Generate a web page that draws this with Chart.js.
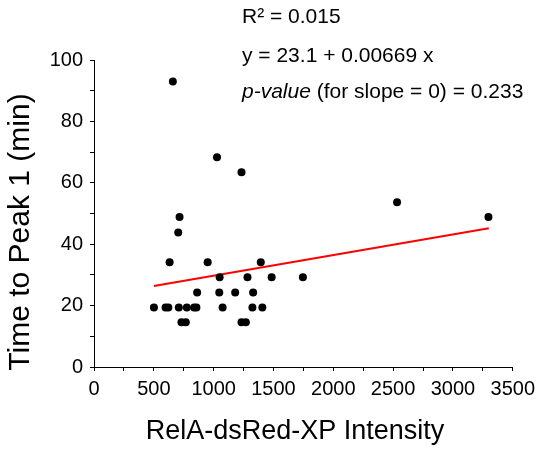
<!DOCTYPE html>
<html>
<head>
<meta charset="utf-8">
<script src="https://cdn.jsdelivr.net/npm/chart.js@4/dist/chart.umd.min.js"></script>
<style>
  html, body { margin: 0; padding: 0; background: #fff; }
  #wrap { width: 541px; height: 451px; position: relative; }
</style>
</head>
<body>
<div id="wrap"><canvas id="chart"></canvas></div>
<script>
// valores
const intensity = [659, 1028, 1233, 715, 704, 632, 950, 1394, 1050, 1283, 1485, 1746,
  862, 1047, 1180, 1330, 501, 598, 621, 709, 776, 837, 856, 1075, 1324, 1407,
  731, 767, 1233, 1269, 2533, 3297];
const timeToPeak = [93, 68.3, 63.4, 48.9, 43.8, 34.1, 34.1, 34.1, 29.2, 29.2, 29.2, 29.2,
  24.3, 24.3, 24.3, 24.3, 19.4, 19.4, 19.4, 19.4, 19.4, 19.4, 19.4, 19.4, 19.4, 19.4,
  14.6, 14.6, 14.6, 14.6, 53.7, 48.9];
// reta de ajuste (extremos)
const fitX = [500, 3300];
const fitY = [26.4, 45.2];
const xTickLabels = [0, 500, 1000, 1500, 2000, 2500, 3000, 3500];
const yTickLabels = [0, 20, 40, 60, 80, 100];
const statsText = ['R\u00B2 = 0.015', 'y = 23.1 + 0.00669 x'];

const FONT = '"Liberation Sans", Arial, sans-serif';

// Textos: anotações e títulos dos eixos
const textPlugin = {
  id: 'texts',
  afterDraw(chart) {
    const ctx = chart.ctx;
    ctx.save();
    ctx.fillStyle = '#000';
    ctx.textBaseline = 'alphabetic';
    ctx.textAlign = 'left';
    ctx.font = '21px ' + FONT;
    ctx.fillText(statsText[0], 242, 23);
    ctx.fillText(statsText[1], 242, 62);
    ctx.font = 'italic 21px ' + FONT;
    ctx.fillText('p-value', 242, 98);
    const w = ctx.measureText('p-value').width;
    ctx.font = '21px ' + FONT;
    ctx.fillText(' (for slope = 0) = 0.233', 242 + w, 98);

    // título do eixo x
    ctx.font = '27px ' + FONT;
    ctx.textAlign = 'center';
    ctx.fillText('RelA-dsRed-XP Intensity', 295, 439);

    // título do eixo y
    ctx.translate(21, 232);
    ctx.rotate(-Math.PI / 2);
    ctx.font = '30px ' + FONT;
    ctx.textBaseline = 'middle';
    ctx.fillText('Time to Peak 1 (min)', 0, 0);
    ctx.restore();
  }
};

const points = intensity.map((x, i) => ({ x: x, y: timeToPeak[i] }));
const fitLine = fitX.map((x, i) => ({ x: x, y: fitY[i] }));

new Chart(document.getElementById('chart').getContext('2d'), {
  type: 'scatter',
  data: {
    datasets: [
      {
        label: 'fit',
        data: fitLine,
        type: 'line',
        showLine: true,
        borderColor: '#ff0000',
        borderWidth: 2,
        pointRadius: 0,
        fill: false,
        order: 2
      },
      {
        label: 'cells',
        data: points,
        backgroundColor: '#000',
        borderColor: '#000',
        borderWidth: 0,
        pointRadius: 4,
        order: 1
      }
    ]
  },
  options: {
    responsive: true,
    maintainAspectRatio: false,
    animation: false,
    layout: { padding: { left: 0, right: 26, top: 60, bottom: 0 } },
    plugins: {
      legend: { display: false },
      tooltip: { enabled: false }
    },
    scales: {
      x: {
        type: 'linear',
        min: 0,
        max: 3500,
        afterFit: function(scale) { scale.height = 84; },
        border: { display: true, color: '#000', width: 1 },
        grid: { drawOnChartArea: false, drawTicks: true, tickLength: 4, color: '#000' },
        ticks: {
          stepSize: 250,
          autoSkip: false,
          maxRotation: 0,
          padding: 6,
          color: '#000',
          font: { family: FONT, size: 20 },
          callback: function(v) { return xTickLabels.includes(v) ? String(v) : ''; }
        }
      },
      y: {
        type: 'linear',
        min: 0,
        max: 100,
        afterFit: function(scale) { scale.width = 94; },
        border: { display: true, color: '#000', width: 1 },
        grid: { drawOnChartArea: false, drawTicks: true, tickLength: 4, color: '#000' },
        ticks: {
          stepSize: 10,
          autoSkip: false,
          padding: 7,
          color: '#000',
          font: { family: FONT, size: 20 },
          callback: function(v) { return yTickLabels.includes(v) ? String(v) : ''; }
        }
      }
    }
  },
  plugins: [textPlugin]
});
</script>
</body>
</html>
